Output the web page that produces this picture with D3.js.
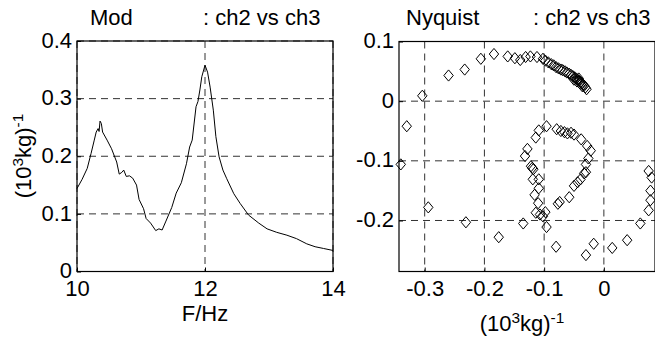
<!DOCTYPE html>
<html>
<head>
<meta charset="utf-8">
<script src="https://cdn.jsdelivr.net/npm/d3@7"></script>
<style>
  body { margin: 0; background: #fff; }
  text { font-family: "Liberation Sans", Arial, sans-serif; fill: #000; }
</style>
</head>
<body>
<svg id="chart" width="655" height="345"></svg>
<script>
// Magnitude of the ch2/ch3 frequency response
const freqHz = [10.00, 10.08, 10.16, 10.22, 10.27, 10.30, 10.33, 10.345, 10.36, 10.38,
  10.40, 10.47, 10.54, 10.62, 10.66, 10.70, 10.73, 10.77, 10.82, 10.87,
  10.93, 10.97, 11.04, 11.08, 11.15, 11.23, 11.28, 11.33, 11.39, 11.48,
  11.55, 11.63, 11.71, 11.76, 11.80, 11.86, 11.89, 11.92, 11.95, 12.00,
  12.04, 12.08, 12.13, 12.17, 12.22, 12.28, 12.34, 12.45, 12.55, 12.68,
  12.84, 12.97, 13.12, 13.28, 13.43, 13.59, 13.72, 13.85, 14.00];
const modValues = [0.144, 0.160, 0.179, 0.205, 0.228, 0.242, 0.248, 0.243, 0.261, 0.257,
  0.242, 0.228, 0.213, 0.190, 0.169, 0.172, 0.176, 0.165, 0.166, 0.162,
  0.150, 0.125, 0.109, 0.092, 0.084, 0.071, 0.074, 0.072, 0.0875, 0.111,
  0.136, 0.154, 0.187, 0.216, 0.228, 0.286, 0.295, 0.315, 0.338, 0.358,
  0.346, 0.320, 0.280, 0.234, 0.199, 0.176, 0.161, 0.135, 0.118, 0.098,
  0.084, 0.074, 0.068, 0.063, 0.057, 0.048, 0.043, 0.040, 0.0365];
const modXTicks = [10, 12, 14];
const modYTicks = [0, 0.1, 0.2, 0.3, 0.4];

// Nyquist points: real and imaginary parts
const nyqRe = [-0.340, -0.330, -0.304, -0.260, -0.233, -0.206, -0.184, -0.161, -0.149, -0.140,
  -0.131, -0.123, -0.112, -0.102, -0.098, -0.093, -0.088, -0.084, -0.080, -0.076,
  -0.072, -0.069, -0.065, -0.062, -0.058, -0.055, -0.052, -0.049, -0.046, -0.044,
  -0.041, -0.039, -0.037, -0.035, -0.033, -0.031, -0.029, -0.050, -0.045, -0.040,
  -0.036, -0.042,
  -0.294, -0.231, -0.176, -0.135,
  -0.080, -0.030, -0.017, 0.014, 0.039, 0.061, 0.075, 0.078, 0.078, 0.080, 0.075,
  -0.096, -0.102, -0.098, -0.107, -0.114, -0.110, -0.116, -0.109, -0.109, -0.119,
  -0.120, -0.122, -0.118, -0.132, -0.128, -0.114, -0.109, -0.096, -0.079, -0.072,
  -0.066, -0.061, -0.055, -0.050, -0.038, -0.028, -0.022, -0.026, -0.030, -0.030,
  -0.033, -0.039, -0.044, -0.050, -0.058, -0.074, -0.077];
const nyqIm = [-0.106, -0.042, 0.009, 0.043, 0.053, 0.071, 0.079, 0.075, 0.072, 0.069,
  0.074, 0.075, 0.074, 0.071, 0.068, 0.065, 0.062, 0.060, 0.057, 0.055,
  0.053, 0.052, 0.050, 0.048, 0.046, 0.044, 0.042, 0.040, 0.038, 0.036,
  0.034, 0.032, 0.030, 0.028, 0.026, 0.023, 0.020, 0.036, 0.033, 0.030,
  0.025, 0.038,
  -0.178, -0.203, -0.228, -0.205,
  -0.244, -0.258, -0.239, -0.246, -0.233, -0.205, -0.183, -0.166, -0.150, -0.128, -0.117,
  -0.211, -0.193, -0.186, -0.190, -0.187, -0.171, -0.157, -0.146, -0.131, -0.131,
  -0.112, -0.109, -0.114, -0.092, -0.080, -0.061, -0.049, -0.042, -0.047, -0.050,
  -0.052, -0.054, -0.053, -0.056, -0.064, -0.075, -0.083, -0.096, -0.106, -0.119,
  -0.121, -0.131, -0.136, -0.142, -0.161, -0.169, -0.172];
const nyqXTicks = [-0.3, -0.2, -0.1, 0];
const nyqYTicks = [-0.2, -0.1, 0, 0.1];

const svg = d3.select("#chart");
const FONT = 22;
const fmt = d => String(+d.toFixed(2));   // keeps the ASCII hyphen for negatives

// Writes "(10^3kg)^-1" with raised superscripts
function unitLabel(sel) {
  sel.append("tspan").text("(10");
  sel.append("tspan").attr("dy", -8).attr("font-size", FONT * 0.7).text("3");
  sel.append("tspan").attr("dy", 8).text("kg)");
  sel.append("tspan").attr("dy", -8).attr("font-size", FONT * 0.7).text("-1");
}

function panel(box, xs, ys, xTicks, yTicks) {
  const g = svg.append("g");
  const x = d3.scaleLinear().domain(xs).range([box.left, box.right]);
  const y = d3.scaleLinear().domain(ys).range([box.bottom, box.top]);

  // dashed grid
  g.append("g").selectAll("line").data(xTicks).join("line")
    .attr("x1", d => x(d)).attr("x2", d => x(d))
    .attr("y1", box.top).attr("y2", box.bottom)
    .attr("stroke", "#333").attr("stroke-dasharray", "7,5");
  g.append("g").selectAll("line").data(yTicks).join("line")
    .attr("x1", box.left).attr("x2", box.right)
    .attr("y1", d => y(d)).attr("y2", d => y(d))
    .attr("stroke", "#333").attr("stroke-dasharray", "7,5");

  // axes with inward ticks
  const ax = g.append("g").attr("transform", `translate(0,${box.bottom})`)
    .call(d3.axisBottom(x).tickValues(xTicks).tickSizeInner(-4).tickSizeOuter(0).tickPadding(9).tickFormat(fmt));
  const ay = g.append("g").attr("transform", `translate(${box.left},0)`)
    .call(d3.axisLeft(y).tickValues(yTicks).tickSizeInner(-4).tickSizeOuter(0).tickPadding(5).tickFormat(fmt));
  [ax, ay].forEach(a => {
    a.select(".domain").remove();
    a.selectAll("line").attr("stroke", "#000");
    a.selectAll("text").attr("font-size", FONT).attr("font-family", null).style("fill", "#000");
  });
  ay.selectAll("text").attr("dy", "0.28em");
  return { g, x, y, box };
}

function frame(p) {
  const b = p.box;
  p.g.append("rect").attr("x", b.left).attr("y", b.top)
    .attr("width", b.right - b.left).attr("height", b.bottom - b.top)
    .attr("fill", "none").attr("stroke", "#000").attr("stroke-width", 1.2);
}

// Left panel: magnitude vs frequency
const left = panel({ left: 77, right: 333, top: 41, bottom: 271.5 }, [10, 14], [0, 0.4], modXTicks, modYTicks);
left.g.append("path")
  .datum(freqHz.map((f, i) => [f, modValues[i]]))
  .attr("fill", "none").attr("stroke", "#000").attr("stroke-width", 1)
  .attr("d", d3.line().x(d => left.x(d[0])).y(d => left.y(d[1])));
frame(left);

left.g.append("text").attr("x", 90).attr("y", 25).attr("font-size", FONT).text("Mod");
left.g.append("text").attr("x", 203).attr("y", 25).attr("font-size", FONT).text(": ch2 vs ch3");
left.g.append("text").attr("x", 205).attr("y", 321).attr("text-anchor", "middle")
  .attr("font-size", FONT).text("F/Hz");
left.g.append("text").attr("transform", "translate(31,156) rotate(-90)")
  .attr("text-anchor", "middle").attr("font-size", FONT).call(unitLabel);

// Right panel: Nyquist diagram
const right = panel({ left: 399, right: 655, top: 41.5, bottom: 271.5 }, [-0.343, 0.0856], [-0.2855, 0.1], nyqXTicks, nyqYTicks);
const diamond = "M0,-5.6L4.7,0L0,5.6L-4.7,0Z";
svg.append("clipPath").attr("id", "nyqClip").append("rect")
  .attr("x", 393).attr("y", 35).attr("width", 262).attr("height", 243);
right.g.append("g").attr("clip-path", "url(#nyqClip)")
  .selectAll("path").data(nyqRe.map((r, i) => [r, nyqIm[i]])).join("path")
  .attr("transform", d => `translate(${right.x(d[0])},${right.y(d[1])})`)
  .attr("d", diamond).attr("fill", "none").attr("stroke", "#000").attr("stroke-width", 1);
frame(right);

right.g.append("text").attr("x", 406).attr("y", 25).attr("font-size", FONT).text("Nyquist");
right.g.append("text").attr("x", 533).attr("y", 25).attr("font-size", FONT).text(": ch2 vs ch3");
right.g.append("text").attr("x", 522).attr("y", 331).attr("text-anchor", "middle")
  .attr("font-size", FONT).call(unitLabel);
</script>
</body>
</html>
